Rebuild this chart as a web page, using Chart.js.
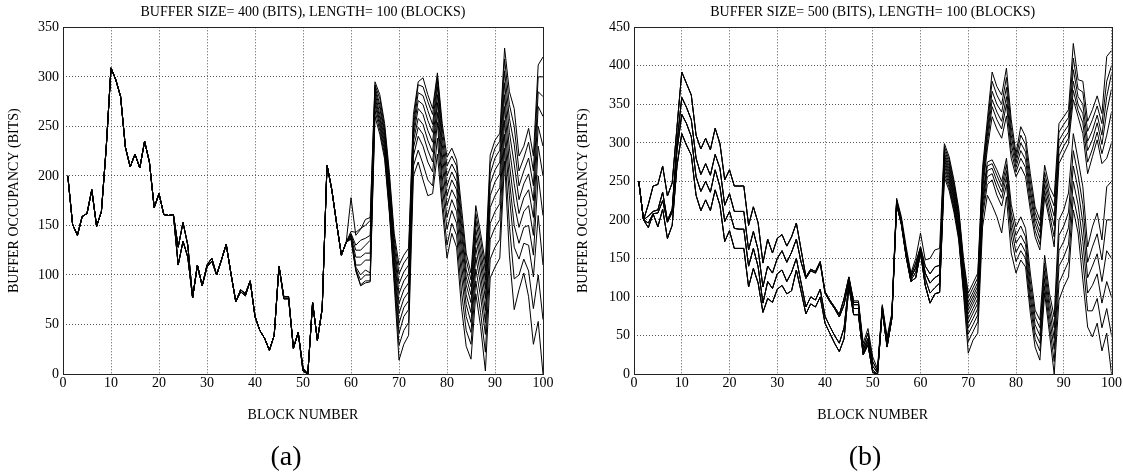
<!DOCTYPE html>
<html>
<head>
<meta charset="utf-8">
<title>Buffer occupancy</title>
<script src="https://cdn.jsdelivr.net/npm/chart.js@4.4.1/dist/chart.umd.min.js"></script>
<style>
  html, body { margin: 0; padding: 0; background: #fff; overflow: hidden; }
  body { position: relative; width: 1123px; height: 476px; }
  canvas { position: absolute; top: 0; }
  #chartA { left: 0; width: 560px; height: 476px; }
  #chartB { left: 560px; width: 563px; height: 476px; }
  .tag {
    position: absolute; top: 441px;
    font-family: 'Liberation Serif', 'Times New Roman', serif;
    font-size: 28px; line-height: 30px; color: #000;
    transform: translateX(-50%);
  }
</style>
</head>
<body>
<canvas id="chartA" width="560" height="476"></canvas>
<canvas id="chartB" width="563" height="476"></canvas>
<div class="tag" style="left:286px">(a)</div>
<div class="tag" style="left:865px">(b)</div>
<script>
// block numbers 1..100 on the x axis
const blocks = Array.from({ length: 100 }, (_, i) => i + 1);

// ---- panel (a): buffer size 400 bits ----
// blocks 1-23, all runs identical
const aCommon = [200, 151, 140, 159, 162, 186, 149, 164, 228, 309, 297, 280, 229, 209, 222, 208, 235, 214, 168, 182, 161, 160, 161];
// blocks 24-59, two slightly different paths
const aMidUpper = [128, 153, 130, 77, 110, 89, 110, 117, 100, 115, 131, 101, 73, 85, 81, 94, 58, 44, 36, 24, 39, 109, 78, 78, 26, 42, 6, 0, 72, 34, 66, 211, 186, 152, 120, 133];
const aMidLower = [110, 134, 118, 77, 110, 89, 108, 114, 100, 115, 131, 101, 73, 83, 79, 94, 58, 44, 36, 24, 39, 109, 76, 76, 26, 42, 3, 0, 72, 34, 66, 211, 186, 152, 120, 133];
// blocks 60-100, one tail per run
const aTail0 = [178, 140, 146, 156, 158, 295, 282, 253, 203, 142, 110, 120, 127, 262, 295, 299, 282, 268, 304, 253, 219, 228, 216, 169, 122, 102, 170, 142, 112, 221, 236, 243, 329, 285, 268, 220, 230, 248, 220, 312, 320];
const aTail1 = [144, 143, 147, 150, 155, 292, 278, 249, 198, 137, 101, 112, 119, 255, 292, 290, 275, 262, 300, 248, 210, 220, 210, 160, 115, 95, 162, 135, 104, 212, 228, 235, 318, 272, 250, 205, 218, 234, 205, 300, 300];
const aTail2 = [142, 130, 135, 137, 140, 290, 272, 245, 193, 131, 91, 103, 110, 250, 284, 281, 266, 252, 296, 240, 200, 212, 202, 152, 105, 88, 155, 126, 95, 202, 218, 226, 306, 258, 232, 190, 205, 218, 190, 285, 280];
const aTail3 = [141, 125, 125, 130, 135, 287, 268, 241, 188, 126, 81, 94, 101, 245, 276, 272, 256, 244, 290, 232, 190, 204, 194, 144, 98, 80, 146, 118, 86, 192, 206, 214, 294, 244, 212, 176, 192, 202, 175, 270, 260];
const aTail4 = [140, 118, 118, 122, 122, 284, 262, 237, 183, 120, 71, 85, 92, 240, 268, 262, 246, 234, 282, 222, 180, 196, 186, 134, 90, 72, 138, 110, 76, 180, 194, 202, 282, 228, 192, 162, 178, 186, 158, 250, 230];
const aTail5 = [140, 110, 110, 115, 115, 280, 258, 233, 178, 114, 61, 76, 83, 235, 258, 252, 236, 224, 274, 212, 170, 186, 176, 124, 80, 62, 128, 100, 64, 168, 180, 188, 270, 212, 172, 148, 164, 170, 140, 230, 200];
const aTail6 = [139, 108, 100, 105, 102, 276, 254, 229, 173, 108, 51, 67, 74, 228, 249, 242, 226, 214, 264, 200, 158, 176, 164, 112, 70, 52, 118, 90, 52, 152, 164, 172, 256, 196, 150, 132, 148, 150, 120, 200, 160];
const aTail7 = [138, 106, 95, 100, 100, 272, 250, 225, 168, 102, 41, 58, 65, 220, 240, 230, 214, 204, 254, 190, 146, 165, 152, 100, 58, 42, 106, 78, 40, 136, 148, 156, 242, 180, 128, 116, 132, 130, 98, 160, 110];
const aTail8 = [137, 105, 90, 94, 94, 266, 246, 221, 165, 96, 29, 44, 52, 210, 226, 212, 196, 190, 238, 178, 130, 152, 140, 84, 44, 30, 94, 62, 22, 116, 128, 136, 228, 150, 96, 100, 116, 104, 66, 100, 55];
const aTail9 = [136, 104, 89, 92, 93, 260, 242, 217, 162, 91, 14, 30, 39, 200, 214, 196, 180, 182, 222, 168, 117, 142, 128, 68, 28, 15, 81, 48, 3, 97, 108, 117, 215, 120, 65, 85, 102, 78, 30, 53, 0];

// ---- panel (b): buffer size 500 bits ----
// blocks 1-45, four distinct paths
const bLineA = [250, 200, 220, 244, 246, 270, 231, 248, 320, 392, 377, 362, 310, 292, 306, 291, 319, 299, 252, 265, 244, 244, 244, 193, 217, 196, 144, 175, 157, 176, 181, 166, 178, 196, 161, 126, 136, 133, 146, 107, 96, 87, 77, 98, 126];
const bLineB = [250, 200, 205, 211, 213, 236, 199, 214, 300, 359, 346, 330, 280, 259, 273, 258, 285, 267, 219, 234, 211, 211, 211, 161, 185, 161, 113, 140, 131, 150, 160, 145, 158, 175, 145, 124, 134, 131, 144, 105, 94, 85, 74, 90, 122];
const bLineC = [250, 200, 196, 208, 209, 225, 197, 210, 290, 337, 325, 308, 256, 237, 250, 236, 265, 243, 198, 211, 189, 188, 188, 140, 163, 139, 92, 120, 111, 130, 135, 120, 132, 150, 118, 87, 100, 96, 110, 75, 62, 50, 40, 60, 118];
const bLineD = [250, 200, 190, 208, 191, 214, 176, 193, 270, 312, 297, 284, 232, 212, 226, 212, 239, 219, 172, 186, 163, 163, 163, 113, 137, 118, 80, 98, 93, 110, 115, 104, 108, 135, 107, 78, 91, 87, 100, 66, 53, 40, 29, 46, 113];
// blocks 46-64
const bMid0 = [95, 95, 40, 59, 22, 7, 90, 48, 79, 228, 204, 165, 131, 150, 183, 148, 150, 161, 163];
const bMid1 = [93, 93, 35, 53, 16, 4, 88, 44, 77, 226, 200, 160, 128, 144, 165, 140, 130, 139, 141];
const bMid2 = [90, 90, 31, 46, 10, 2, 86, 40, 75, 224, 198, 157, 125, 138, 162, 131, 118, 125, 129];
const bMid3 = [85, 85, 27, 42, 5, 0, 84, 37, 73, 222, 196, 154, 122, 132, 160, 124, 105, 112, 118];
const bMid4 = [77, 77, 25, 38, 2, 0, 83, 35, 72, 220, 194, 152, 120, 125, 157, 115, 92, 104, 106];
// blocks 65-100, one tail per run
const bTail0 = [299, 282, 252, 215, 150, 105, 118, 131, 268, 330, 392, 373, 362, 397, 330, 286, 321, 308, 260, 217, 200, 271, 243, 230, 325, 334, 343, 429, 382, 380, 328, 343, 361, 338, 412, 420];
const bTail1 = [295, 278, 248, 211, 145, 99, 112, 125, 262, 322, 380, 362, 350, 385, 320, 280, 310, 298, 250, 210, 192, 262, 234, 218, 314, 324, 333, 410, 370, 366, 315, 330, 348, 325, 380, 400];
const bTail2 = [291, 274, 244, 207, 140, 93, 106, 119, 256, 315, 367, 350, 340, 372, 310, 274, 300, 288, 240, 202, 184, 254, 226, 205, 303, 314, 323, 395, 360, 350, 302, 316, 336, 310, 360, 390];
const bTail3 = [287, 270, 240, 203, 136, 88, 101, 114, 250, 308, 356, 340, 328, 360, 300, 268, 290, 278, 232, 195, 176, 246, 218, 192, 293, 305, 314, 380, 350, 338, 290, 304, 326, 298, 340, 370];
const bTail4 = [284, 266, 236, 199, 132, 83, 96, 109, 244, 300, 347, 330, 318, 350, 290, 262, 280, 268, 222, 186, 168, 238, 208, 178, 283, 296, 306, 368, 342, 326, 275, 292, 314, 286, 310, 340];
const bTail5 = [281, 262, 232, 195, 128, 78, 91, 104, 238, 292, 334, 318, 306, 335, 280, 256, 269, 256, 213, 178, 161, 230, 200, 165, 273, 286, 299, 356, 334, 312, 260, 282, 304, 273, 280, 300];
const bTail6 = [278, 258, 229, 191, 124, 72, 85, 98, 232, 275, 278, 265, 250, 280, 220, 191, 204, 189, 131, 83, 70, 154, 105, 74, 200, 213, 235, 312, 278, 243, 165, 191, 209, 174, 243, 250];
const bTail7 = [274, 254, 225, 188, 120, 66, 79, 92, 226, 270, 273, 258, 243, 272, 210, 180, 192, 178, 120, 74, 60, 144, 95, 60, 180, 192, 210, 290, 258, 220, 145, 165, 182, 148, 200, 200];
const bTail8 = [270, 250, 221, 184, 116, 60, 72, 85, 220, 264, 267, 250, 236, 264, 200, 170, 180, 168, 110, 64, 50, 134, 85, 46, 160, 172, 190, 270, 240, 196, 125, 140, 156, 120, 160, 150];
const bTail9 = [265, 246, 217, 180, 112, 52, 64, 77, 212, 256, 260, 242, 228, 256, 190, 158, 170, 158, 100, 54, 40, 124, 75, 32, 140, 152, 168, 250, 220, 172, 105, 115, 130, 92, 120, 100];
const bTail10 = [260, 242, 214, 177, 108, 42, 55, 68, 204, 246, 252, 232, 218, 246, 178, 146, 160, 150, 90, 45, 30, 114, 64, 16, 118, 132, 146, 230, 200, 148, 82, 82, 98, 60, 85, 50];
const bTail11 = [255, 238, 210, 174, 104, 27, 44, 53, 191, 232, 219, 204, 183, 230, 157, 131, 148, 139, 79, 35, 18, 105, 53, 0, 96, 113, 126, 213, 183, 122, 61, 48, 66, 30, 53, 0];

// assemble full runs
const aRuns = [aTail0, aTail1, aTail2, aTail3, aTail4, aTail5, aTail6, aTail7, aTail8, aTail9]
  .map((tail, i) => aCommon.concat(i < 5 ? aMidUpper : aMidLower, tail));

const bHeads = [bLineA, bLineA, bLineA, bLineB, bLineB, bLineB, bLineC, bLineC, bLineC, bLineD, bLineD, bLineD];
const bMids = [bMid0, bMid1, bMid1, bMid2, bMid2, bMid2, bMid3, bMid3, bMid4, bMid4, bMid4, bMid4];
const bRuns = [bTail0, bTail1, bTail2, bTail3, bTail4, bTail5, bTail6, bTail7, bTail8, bTail9, bTail10, bTail11]
  .map((tail, i) => bHeads[i].concat(bMids[i], tail));

const serif = "'Liberation Serif', 'Times New Roman', serif";
Chart.defaults.font.family = serif;
Chart.defaults.font.size = 14;
Chart.defaults.color = '#000';

// box around the plot area
const framePlugin = {
  id: 'frame',
  afterDraw(chart) {
    const { ctx, chartArea: a } = chart;
    ctx.save();
    ctx.strokeStyle = '#222';
    ctx.lineWidth = 1;
    ctx.strokeRect(Math.round(a.left) + 0.5, Math.round(a.top) + 0.5,
      Math.round(a.right - a.left), Math.round(a.bottom - a.top));
    ctx.restore();
  }
};

function buildDatasets(runs) {
  return runs.map(values => ({
    data: values.map((v, i) => ({ x: blocks[i], y: v })),
    borderColor: '#000',
    borderWidth: 1,
    pointRadius: 0,
    fill: false,
    tension: 0
  }));
}

function makePanel(canvasId, runs, title, yMax, axisWidth, yTitlePad, padRight) {
  const font = { family: serif, size: 14, weight: 'normal' };
  new Chart(document.getElementById(canvasId), {
    type: 'line',
    data: { datasets: buildDatasets(runs) },
    options: {
      responsive: false,
      animation: false,
      devicePixelRatio: 1,
      layout: { padding: { left: 0, right: padRight, top: 0, bottom: 52 } },
      plugins: {
        legend: { display: false },
        tooltip: { enabled: false },
        title: {
          display: true,
          text: title,
          fullSize: false,
          font: font,
          color: '#000',
          padding: { top: 4, bottom: 6.5 }
        }
      },
      scales: {
        x: {
          type: 'linear',
          min: 0,
          max: 100,
          ticks: { stepSize: 10, font: font, color: '#000', padding: 1, maxRotation: 0 },
          grid: { color: '#555', lineWidth: 1, drawTicks: false },
          border: { display: false, dash: [1, 2] },
          title: { display: true, text: 'BLOCK NUMBER', font: font, color: '#000', padding: 0 },
          afterFit: s => { s.height = 50; }
        },
        y: {
          min: 0,
          max: yMax,
          ticks: { stepSize: 50, font: font, color: '#000', padding: 4 },
          grid: { color: '#555', lineWidth: 1, drawTicks: false },
          border: { display: false, dash: [1, 2] },
          title: { display: true, text: 'BUFFER OCCUPANCY (BITS)', font: font, color: '#000', padding: { top: yTitlePad, bottom: 0 } },
          afterFit: s => { s.width = axisWidth; }
        }
      }
    },
    plugins: [framePlugin]
  });
}

makePanel('chartA', aRuns, 'BUFFER SIZE= 400 (BITS), LENGTH= 100 (BLOCKS)', 350, 63, 5.6, 17);
makePanel('chartB', bRuns, 'BUFFER SIZE= 500 (BITS), LENGTH= 100 (BLOCKS)', 450, 74, 14.6, 10);
</script>
</body>
</html>
